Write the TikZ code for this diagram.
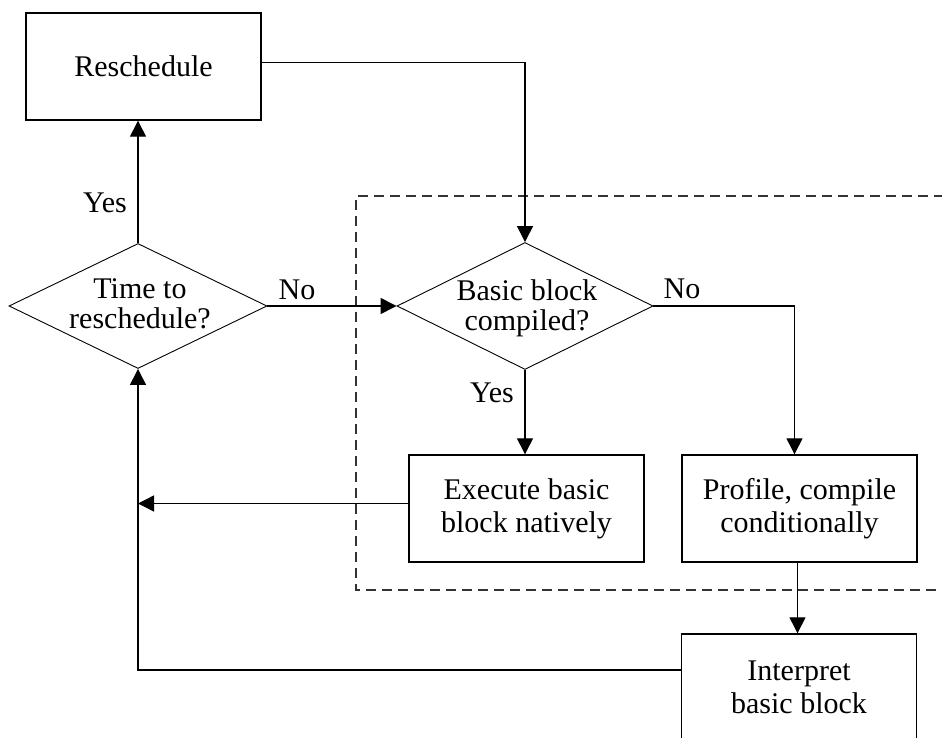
\documentclass[tikz,border=0pt]{standalone}
\usepackage{fontspec}
\setmainfont{Liberation Serif}
\usetikzlibrary{shapes.geometric,arrows.meta}
\begin{document}
\begin{tikzpicture}[x=1pt,y=-1pt,
  every node/.style={font=\fontsize{30}{33}\selectfont},
  procbox/.style={draw, line width=1.4pt, rectangle, minimum width=235pt,
    minimum height=107pt, inner sep=0pt, align=center},
  decision/.style={draw, line width=0.9pt, diamond, inner sep=0pt},
  question/.style={inner sep=0pt, align=center, font=\fontsize{30}{30}\selectfont},
  flow/.style={line width=1.3pt, -{Triangle[length=16pt,width=16pt]}},
  region/.style={line width=1.3pt, dash pattern=on 10pt off 6pt, draw=black!80},
  tag/.style={inner sep=0pt}]
\useasboundingbox (0,0) rectangle (942,738);
\clip (0,0) rectangle (942,738);

% compiled-code region
\draw[region] (960,196) -- (356,196) -- (356,590) -- (960,590);

% process boxes
\node[procbox] (resched) at (143.5,66.5) {Reschedule};
\node[procbox] (exec) at (526.5,508.5) {Execute basic\\block natively};
\node[procbox] (prof) at (799.5,508.5) {Profile, compile\\conditionally};
\node[procbox] (interp) at (799,687.5) {Interpret\\basic block};

% decisions (outline and question text)
\node[decision, minimum width=258pt, minimum height=125pt] (time) at (138,306) {};
\node[question] (timeq) at (140,304) {Time to\\reschedule?};
\node[decision, minimum width=256pt, minimum height=127pt] (basic) at (525,306) {};
\node[question] (basicq) at (527,308) {Basic block\\compiled?};

% connectors
\draw[flow] (time.north) -- (time.north |- resched.south);
\draw[flow] ([yshift=4pt]resched.east) -| (basic.north);
\draw[flow] (time.east) -- (basic.west);
\draw[flow] (basic.south) -- (basic.south |- exec.north);
\draw[flow] (basic.east) -| ([xshift=-5pt]prof.north);
\draw[flow] ([yshift=5pt]exec.west) -- ([yshift=5pt]exec.west -| time.south);
\draw[flow] ([xshift=-2pt]prof.south) -- ([xshift=-2pt]prof.south |- interp.north);
\draw[flow] ([yshift=17.5pt]interp.west) -| (time.south);

% branch labels
\node[tag] (yes1) at (105,203) {Yes};
\node[tag] (no1) at (297,290) {No};
\node[tag] (no2) at (682,289) {No};
\node[tag] (yes2) at (492,393) {Yes};
\end{tikzpicture}
\end{document}
